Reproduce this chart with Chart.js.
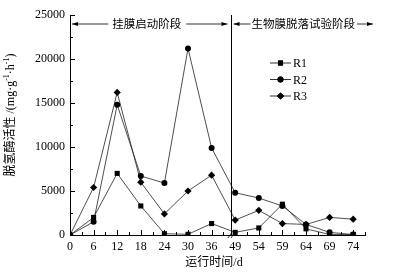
<!DOCTYPE html>
<html>
<head>
<meta charset="utf-8">
<script src="https://cdn.jsdelivr.net/npm/chart.js@4/dist/chart.umd.min.js"></script>
<style>
  html, body { margin: 0; padding: 0; background: #fff; }
</style>
</head>
<body>
<canvas id="c" width="399" height="273"></canvas>
<script>
// run time in days (axis is broken between 36 and 49)
const days = ["0", "6", "12", "18", "24", "30", "36", "49", "54", "59", "64", "69", "74"];
const r1 = [0, 2000, 7000, 3300, 150, 80, 1300, 300, 800, 3500, 700, 60, 60];
const r2 = [0, 1500, 14800, 6700, 5900, 21200, 9900, 4800, 4200, 3300, 1200, 300, 50];
const r3 = [0, 5400, 16200, 6000, 2400, 5000, 6800, 1700, 2800, 1300, 1200, 2000, 1800];
const yTicks = [0, 5000, 10000, 15000, 20000, 25000];
const stageBoundary = 6.83; // between 36 and 49
const stage1 = "挂膜启动阶段";
const stage2 = "生物膜脱落试验阶段";

const serif = '"Liberation Serif", "Noto Sans CJK SC", serif';
const pts = arr => arr.map((v, i) => ({ x: i, y: v }));

function series(label, data, style, radius) {
  return {
    label: label,
    data: pts(data),
    borderColor: "#222",
    borderWidth: 0.8,
    backgroundColor: "#000",
    pointBackgroundColor: "#000",
    pointBorderColor: "#000",
    pointBorderWidth: 0,
    pointStyle: style,
    pointRadius: radius,
    tension: 0,
  };
}

function arrow(ctx, x1, x2, y) {
  // line from x1 to x2, head at x2
  const dir = x2 > x1 ? 1 : -1;
  ctx.beginPath();
  ctx.moveTo(x1, y);
  ctx.lineTo(x2, y);
  ctx.stroke();
  ctx.beginPath();
  ctx.moveTo(x2, y);
  ctx.lineTo(x2 - dir * 6, y - 2);
  ctx.lineTo(x2 - dir * 6, y + 2);
  ctx.closePath();
  ctx.fill();
}

const decor = {
  id: "decor",
  afterDraw(chart) {
    const ctx = chart.ctx;
    const xs = chart.scales.x, ys = chart.scales.y;
    const a = chart.chartArea;
    ctx.save();
    ctx.strokeStyle = "#000";
    ctx.fillStyle = "#000";
    ctx.lineWidth = 1;

    // inward ticks on x axis
    for (let v = 0; v <= 12.5; v += 0.5) {
      const px = Math.round(xs.getPixelForValue(v)) + 0.5;
      const len = Number.isInteger(v) ? 5 : 3;
      ctx.beginPath();
      ctx.moveTo(px, a.bottom);
      ctx.lineTo(px, a.bottom - len);
      ctx.stroke();
    }
    // inward ticks on y axis
    for (let v = 0; v <= 25000; v += 2500) {
      const py = Math.round(ys.getPixelForValue(v)) + 0.5;
      const len = v % 5000 === 0 ? 5 : 3;
      ctx.beginPath();
      ctx.moveTo(a.left, py);
      ctx.lineTo(a.left + len, py);
      ctx.stroke();
    }

    // stage boundary
    const bx = Math.round(xs.getPixelForValue(stageBoundary)) + 0.5;
    ctx.beginPath();
    ctx.moveTo(bx, a.top);
    ctx.lineTo(bx, a.bottom);
    ctx.stroke();

    // axis break marks
    ctx.lineWidth = 0.8;
    [-1.5, 1.5].forEach(d => {
      ctx.beginPath();
      ctx.moveTo(bx + d - 2, a.bottom + 3);
      ctx.lineTo(bx + d + 2, a.bottom - 3);
      ctx.stroke();
    });

    // stage labels with arrows
    ctx.lineWidth = 0.8;
    ctx.font = "11.5px " + serif;
    ctx.textBaseline = "middle";
    ctx.textAlign = "center";
    const ay = 24;
    const c1 = (a.left + bx) / 2 - 4;
    const w1 = ctx.measureText(stage1).width;
    ctx.fillText(stage1, c1, ay + 1);
    arrow(ctx, c1 - w1 / 2 - 4, a.left + 2, ay);
    arrow(ctx, c1 + w1 / 2 + 5, bx - 4, ay);
    const w2 = ctx.measureText(stage2).width;
    const c2 = bx + 20 + w2 / 2;
    ctx.fillText(stage2, c2, ay + 1);
    arrow(ctx, c2 - w2 / 2 - 1, bx + 2, ay);
    arrow(ctx, c2 + w2 / 2 + 2, c2 + w2 / 2 + 18, ay);

    // legend
    ctx.textAlign = "left";
    ctx.font = "12px " + serif;
    chart.data.datasets.forEach((ds, i) => {
      const ly = 63 + i * 16.5;
      ctx.lineWidth = 0.8;
      ctx.beginPath();
      ctx.moveTo(270, ly);
      ctx.lineTo(291, ly);
      ctx.stroke();
      Chart.helpers.drawPoint(ctx, { pointStyle: ds.pointStyle, radius: ds.pointRadius, borderWidth: 0 }, 280.5, ly);
      ctx.fill();
      ctx.fillText(ds.label, 293, ly + 1);
    });

    // x title
    ctx.textAlign = "center";
    ctx.font = "12px " + serif;
    ctx.fillText("运行时间/d", 214, 263);

    // y title with superscripts
    const parts = [["脱氢酶活性 /(mg·g", 0], ["-1", 1], ["·h", 0], ["-1", 1], [")", 0]];
    const fN = "12px " + serif, fS = "8px " + serif;
    let total = 0;
    parts.forEach(p => { ctx.font = p[1] ? fS : fN; total += ctx.measureText(p[0]).width; });
    ctx.translate(11, 115);
    ctx.rotate(-Math.PI / 2);
    ctx.textAlign = "left";
    let cx = -total / 2;
    parts.forEach(p => {
      ctx.font = p[1] ? fS : fN;
      ctx.fillText(p[0], cx, p[1] ? -4 : 0);
      cx += ctx.measureText(p[0]).width;
    });
    ctx.restore();
  }
};

new Chart(document.getElementById("c").getContext("2d"), {
  type: "line",
  data: {
    datasets: [
      series("R1", r1, "rect", 3.6),
      series("R2", r2, "circle", 3),
      series("R3", r3, "rectRot", 3.6),
    ],
  },
  options: {
    responsive: false,
    devicePixelRatio: 1,
    animation: false,
    layout: { padding: { top: 15, right: 34, left: 0, bottom: 0 } },
    plugins: { legend: { display: false }, tooltip: { enabled: false } },
    scales: {
      x: {
        type: "linear",
        min: 0,
        max: 12.5,
        afterFit: s => { s.height = 38; },
        afterBuildTicks: s => { s.ticks = days.map((d, i) => ({ value: i })); },
        ticks: {
          autoSkip: false,
          maxRotation: 0,
          padding: 5,
          color: "#000",
          font: { family: serif, size: 12 },
          callback: v => days[v],
        },
        grid: { drawOnChartArea: false, drawTicks: false },
        border: { display: true, color: "#000", width: 1 },
      },
      y: {
        min: 0,
        max: 25000,
        afterFit: s => { s.width = 70; },
        afterBuildTicks: s => { s.ticks = yTicks.map(v => ({ value: v })); },
        ticks: {
          padding: 5,
          color: "#000",
          font: { family: serif, size: 12 },
          callback: v => String(v),
        },
        grid: { drawOnChartArea: false, drawTicks: false },
        border: { display: true, color: "#000", width: 1 },
      },
    },
  },
  plugins: [decor],
});
</script>
</body>
</html>
